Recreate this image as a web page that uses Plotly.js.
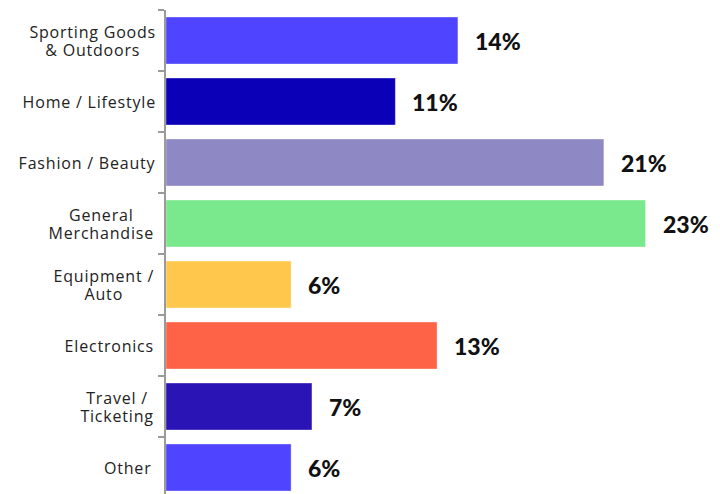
<!DOCTYPE html>
<html>
<head>
<meta charset="utf-8">
<script src="https://cdn.plot.ly/plotly-3.0.1.min.js"></script>
<style>html,body{margin:0;padding:0;background:#fff;}#chart{width:720px;height:494px;}</style>
</head>
<body>
<div id="chart"></div>
<script>
const categories = ["Sporting Goods<br>& Outdoors", "Home / Lifestyle", "Fashion / Beauty", "General<br>Merchandise", "Equipment /<br>Auto", "Electronics", "Travel /<br>Ticketing", "Other"];
const values = [14, 11, 21, 23, 6, 13, 7, 6];
const valueLabels = ["14%", "11%", "21%", "23%", "6%", "13%", "7%", "6%"];
const barColors = ["#4f44ff", "#0b00b8", "#8e89c4", "#7ae88d", "#ffc84d", "#ff6347", "#2a14b5", "#4f44ff"];

const trace = {
  type: "bar",
  orientation: "h",
  y: categories,
  x: values,
  width: 0.77,
  marker: {color: barColors, line: {color: "rgba(255,255,255,0.35)", width: 1}},
  hoverinfo: "none"
};

const catAnnotations = categories.map((c) => ({
  x: 0, y: c, xref: "paper", yref: "y",
  text: c, showarrow: false, align: "center",
  xanchor: "right", yanchor: "middle", xshift: -14,
  font: {family: "'Open Sans', sans-serif", size: 16, color: "#222"}
}));

const valueAnnotations = values.map((v, i) => ({
  x: v, y: categories[i], xref: "x", yref: "y",
  text: valueLabels[i], showarrow: false,
  xanchor: "left", yanchor: "middle", xshift: 15,
  font: {family: "Lato, sans-serif", size: 23, color: "#111", weight: 900}
}));

const layout = {
  width: 720, height: 494,
  margin: {l: 166, r: 0, t: 10, b: 0},
  paper_bgcolor: "#fff", plot_bgcolor: "#fff",
  showlegend: false,
  xaxis: {range: [0, 26.57], visible: false, fixedrange: true},
  yaxis: {
    type: "category",
    range: [7.434, -0.5],
    showline: true, linecolor: "#9a9a9a", linewidth: 2,
    ticks: "outside", tickson: "boundaries", ticklen: 6, tickcolor: "#9a9a9a", tickwidth: 2,
    showgrid: false, zeroline: false, showticklabels: false
  },
  annotations: catAnnotations.concat(valueAnnotations)
};

const css = document.createElement("style");
css.textContent = categories.map((_, i) => '#chart .annotation[data-index="' + i + '"] text').join(",") + "{letter-spacing:0.8px;}";
document.head.appendChild(css);

Plotly.newPlot("chart", [trace], layout, {staticPlot: true, displayModeBar: false}).then(() => {
  document.querySelectorAll('#chart .annotation-text').forEach((t) => {
    const lines = t.querySelectorAll('tspan.line');
    if (lines.length === 2) {
      lines[0].setAttribute('dy', '0.1em');
      lines[1].setAttribute('dy', '1.22em');
    }
  });
});
</script>
</body>
</html>
